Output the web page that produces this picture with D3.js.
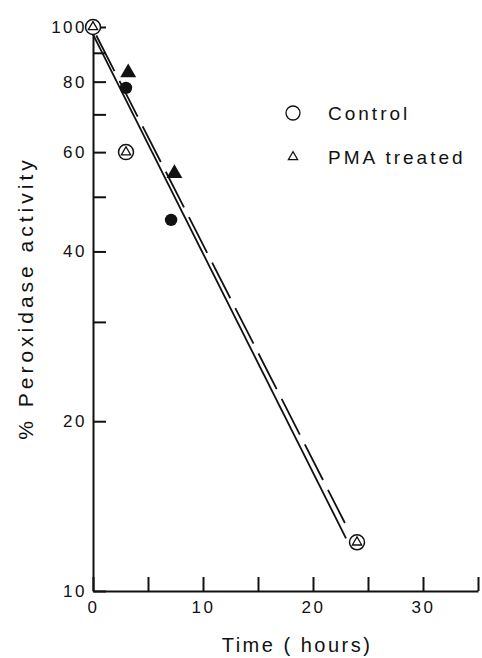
<!DOCTYPE html>
<html>
<head>
<meta charset="utf-8">
<script src="https://cdn.jsdelivr.net/npm/d3@7"></script>
<style>
  body { margin: 0; background: #fff; }
  text { font-family: "Liberation Sans", Arial, sans-serif; fill: #111; }
</style>
</head>
<body>
<svg width="482" height="658"></svg>
<script>
// points where control and PMA treated coincide (circle with triangle inside)
var openTimes = [0, 3, 24];
var openValues = [100, 60, 12.2];
// filled symbols
var filledCircleTimes = [3, 7.1];
var filledCircleValues = [78, 45.5];
var filledTriangleTimes = [3.2, 7.4];
var filledTriangleValues = [83, 55];
// fitted lines (start / end)
var controlFitTimes = [0, 23];
var controlFitValues = [97, 12.4];
var pmaFitTimes = [0.3, 22.9];
var pmaFitValues = [96.6, 13.2];

var xTicks = [0, 5, 10, 15, 20, 25, 30, 35];
var xLabels = [0, 10, 20, 30];
var yTicks = [10, 20, 30, 40, 50, 60, 70, 80, 90, 100];
var yLabels = [10, 20, 40, 60, 80, 100];
var legendNames = ["Control", "PMA treated"];

var svg = d3.select("svg");

var x = d3.scaleLinear().domain([0, 35]).range([93, 478]);
var y = d3.scaleLog().domain([10, 100]).range([591, 27]);

// x axis, ticks pointing up
svg.append("g")
    .attr("transform", "translate(0," + y(10) + ")")
    .call(d3.axisBottom(x)
        .tickValues(xTicks)
        .tickSizeInner(-14)
        .tickSizeOuter(0)
        .tickPadding(10)
        .tickFormat(function (d) { return xLabels.indexOf(d) >= 0 ? d : ""; }));

// y axis, ticks pointing right
svg.append("g")
    .attr("transform", "translate(" + x(0) + ",0)")
    .call(d3.axisLeft(y)
        .tickValues(yTicks)
        .tickSizeInner(-13)
        .tickSizeOuter(0)
        .tickPadding(6)
        .tickFormat(function (d) { return yLabels.indexOf(d) >= 0 ? d : ""; }));

svg.selectAll(".domain, .tick line")
    .attr("stroke", "#111")
    .attr("stroke-width", 2);
svg.selectAll(".tick text")
    .attr("font-size", 17)
    .attr("font-family", "Liberation Sans, Arial, sans-serif")
    .attr("letter-spacing", 2.5)
    .attr("fill", "#111");

//the fitted lines
var line = d3.line()
    .x(function (d) { return x(d[0]); })
    .y(function (d) { return y(d[1]); });

svg.append("path")
    .datum(d3.zip(controlFitTimes, controlFitValues))
    .attr("d", line)
    .attr("fill", "none")
    .attr("stroke", "#111")
    .attr("stroke-width", 1.8);

svg.append("path")
    .datum(d3.zip(pmaFitTimes, pmaFitValues))
    .attr("d", line)
    .attr("fill", "none")
    .attr("stroke", "#111")
    .attr("stroke-width", 1.8)
    .attr("stroke-dasharray", "40,11");

// open markers
var openPts = svg.selectAll(".open")
    .data(d3.zip(openTimes, openValues))
    .enter()
    .append("g")
    .attr("class", "open")
    .attr("transform", function (d) { return "translate(" + x(d[0]) + "," + y(d[1]) + ")"; });

openPts.append("circle")
    .attr("r", 7.5)
    .attr("fill", "#fff")
    .attr("stroke", "#111")
    .attr("stroke-width", 1.5);

openPts.append("path")
    .attr("d", d3.symbol(d3.symbolTriangle, 38))
    .attr("fill", "none")
    .attr("stroke", "#111")
    .attr("stroke-width", 1.3);

// filled circles
svg.selectAll(".fcircle")
    .data(d3.zip(filledCircleTimes, filledCircleValues))
    .enter()
    .append("circle")
    .attr("class", "fcircle")
    .attr("cx", function (d) { return x(d[0]); })
    .attr("cy", function (d) { return y(d[1]); })
    .attr("r", 6.2)
    .attr("fill", "#111");

// filled triangles
svg.selectAll(".ftri")
    .data(d3.zip(filledTriangleTimes, filledTriangleValues))
    .enter()
    .append("path")
    .attr("class", "ftri")
    .attr("transform", function (d) { return "translate(" + x(d[0]) + "," + y(d[1]) + ")"; })
    .attr("d", d3.symbol(d3.symbolTriangle, 110))
    .attr("fill", "#111");

// legend
var legend = svg.append("g").attr("transform", "translate(293,113)");
legend.append("circle")
    .attr("r", 7)
    .attr("fill", "none")
    .attr("stroke", "#111")
    .attr("stroke-width", 1.3);
legend.append("path")
    .attr("transform", "translate(0,44)")
    .attr("d", d3.symbol(d3.symbolTriangle, 38))
    .attr("fill", "none")
    .attr("stroke", "#111")
    .attr("stroke-width", 1.2);
legend.selectAll("text")
    .data(legendNames)
    .enter()
    .append("text")
    .attr("x", 35)
    .attr("y", function (d, i) { return i * 44; })
    .attr("dy", "0.35em")
    .attr("font-size", 19)
    .attr("letter-spacing", 3)
    .text(function (d) { return d; });

// axis titles
svg.append("text")
    .attr("x", 297)
    .attr("y", 652)
    .attr("text-anchor", "middle")
    .attr("font-size", 20)
    .attr("letter-spacing", 2.5)
    .text("Time ( hours)");

svg.append("text")
    .attr("transform", "translate(33,298) rotate(-90)")
    .attr("text-anchor", "middle")
    .attr("font-size", 21)
    .attr("letter-spacing", 4)
    .text("% Peroxidase activity");
</script>
</body>
</html>
